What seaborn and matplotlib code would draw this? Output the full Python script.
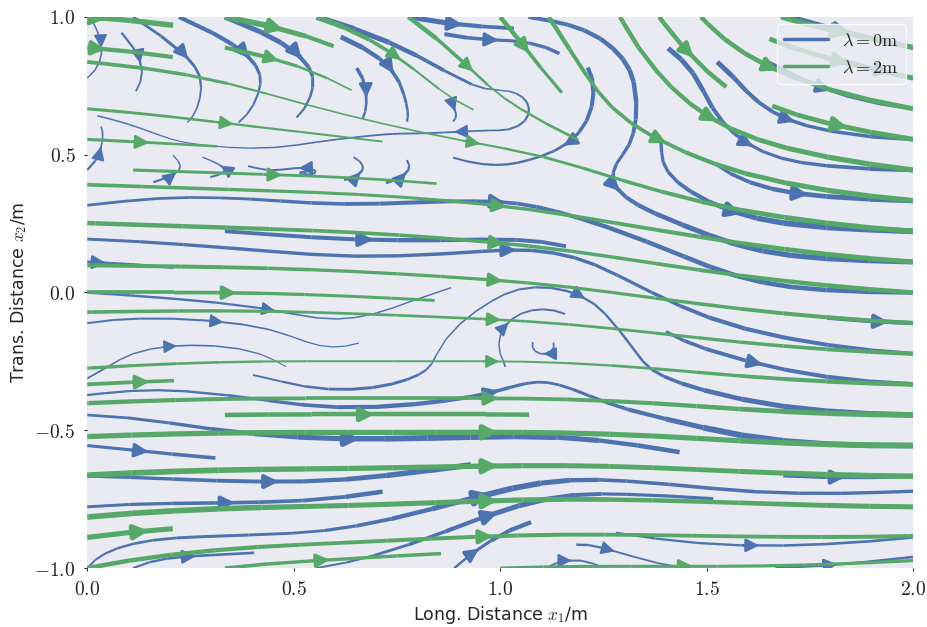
import numpy as np
import matplotlib
matplotlib.use("Agg")
import matplotlib.pyplot as plt
from matplotlib.lines import Line2D
from matplotlib.ticker import FuncFormatter, MultipleLocator
import seaborn as sns

# grid nodes (x: longitudinal, y: transverse), rows listed from top (y=1) to bottom (y=-1)
x_nodes = [0.0, 0.25, 0.5, 0.75, 1.0, 1.25, 1.5, 1.75, 2.0]
y_nodes_top_down = [1.0, 0.75, 0.5, 0.25, 0.0, -0.25, -0.5, -0.75, -1.0]

# lambda = 0 m : flow direction components and relative speed
blue_dx = [
    [0.3, 0.8, 1.0, 1.0, 1.0, 1.0, 1.0, 1.0, 1.0],
    [-0.5, 0.0, -0.2, 0.2, 1.0, 0.0, 0.3, 1.0, 1.0],
    [0.3, -0.3, -0.5, -0.3, -1.0, -0.5, 0.5, 1.0, 1.0],
    [1.0, 1.0, 1.0, 1.0, 1.0, 1.0, 1.0, 1.0, 1.0],
    [1.0, 1.0, 1.0, 1.0, 0.8, 0.7, 1.0, 1.0, 1.0],
    [0.3, 0.5, 0.2, 0.3, -0.3, -0.2, 1.0, 1.0, 1.0],
    [1.0, 1.0, 1.0, 1.0, 1.0, 1.0, 1.0, 1.0, 1.0],
    [1.0, 1.0, 1.0, 1.0, 1.0, 1.0, 1.0, 1.0, 1.0],
    [0.5, 1.0, 1.0, 1.0, 0.3, 0.5, 1.0, 1.0, 1.0],
]
blue_dy = [
    [-1.0, -0.5, -0.5, -0.3, 0.0, -0.5, -0.5, -0.4, -0.3],
    [-0.5, -1.0, -1.0, -1.0, 0.0, -1.0, -1.0, -0.6, -0.3],
    [1.0, 0.2, 0.0, 0.5, 0.0, -0.6, -0.8, -0.2, 0.0],
    [-0.05, -0.1, -0.1, -0.05, -0.05, -0.5, -0.6, -0.1, -0.05],
    [-0.1, -0.15, -0.2, 0.4, 0.6, -0.7, -0.6, -0.1, 0.0],
    [0.5, 0.05, -0.3, 0.5, 0.8, -0.8, -0.45, -0.3, -0.1],
    [-0.2, -0.25, -0.1, 0.0, 0.0, -0.2, -0.35, -0.1, 0.0],
    [0.05, 0.0, 0.05, 0.3, 0.45, 0.0, -0.1, 0.0, 0.1],
    [1.0, 0.1, 0.1, 0.6, 1.0, -0.5, -0.1, 0.1, 0.2],
]
blue_speed = [
    [0.3, 0.8, 1.0, 0.9, 0.7, 0.8, 1.0, 0.8, 0.8],
    [0.3, 0.4, 0.5, 0.6, 0.3, 0.8, 0.8, 0.7, 0.6],
    [0.4, 0.2, 0.3, 0.3, 0.4, 0.6, 0.6, 0.6, 0.8],
    [0.6, 0.7, 0.8, 0.9, 0.8, 0.8, 0.9, 1.0, 1.0],
    [0.5, 0.5, 0.4, 0.3, 0.4, 0.5, 0.8, 0.8, 0.8],
    [0.3, 0.3, 0.2, 0.3, 0.3, 0.4, 0.7, 0.7, 0.7],
    [0.6, 0.7, 0.9, 1.0, 1.0, 0.8, 1.0, 1.0, 1.0],
    [0.6, 0.7, 0.7, 0.9, 1.0, 0.6, 0.6, 0.6, 0.6],
    [0.4, 0.5, 0.4, 0.5, 0.5, 0.3, 0.4, 0.5, 0.5],
]

# lambda = 2 m
green_dx = [
    [1.0, 1.0, 1.0, 0.8, 0.5, 0.3, 0.5, 1.0, 1.0],
    [1.0, 1.0, 0.8, 0.5, 0.5, 0.4, 0.6, 1.0, 1.0],
    [1.0, 1.0, 1.0, 1.0, 1.0, 0.8, 0.8, 1.0, 1.0],
    [1.0, 1.0, 1.0, 1.0, 1.0, 1.0, 1.0, 1.0, 1.0],
    [1.0, 1.0, 1.0, 1.0, 1.0, 1.0, 1.0, 1.0, 1.0],
    [1.0, 1.0, 1.0, 1.0, 1.0, 1.0, 1.0, 1.0, 1.0],
    [1.0, 1.0, 1.0, 1.0, 1.0, 1.0, 1.0, 1.0, 1.0],
    [1.0, 1.0, 1.0, 1.0, 1.0, 1.0, 1.0, 1.0, 1.0],
    [1.0, 1.0, 1.0, 1.0, 1.0, 1.0, 1.0, 1.0, 1.0],
]
green_dy = [
    [-0.1, -0.2, -0.4, -0.8, -0.9, -1.0, -0.8, -0.3, -0.3],
    [-0.15, -0.3, -0.5, -0.6, -0.7, -0.9, -0.8, -0.5, -0.3],
    [-0.05, -0.05, -0.05, -0.1, -0.2, -0.5, -0.5, -0.3, -0.2],
    [-0.05, -0.05, -0.05, -0.1, -0.15, -0.25, -0.25, -0.2, -0.1],
    [0.0, 0.0, -0.05, -0.08, -0.1, -0.2, -0.2, -0.15, -0.1],
    [0.1, 0.05, 0.0, 0.0, 0.0, -0.1, -0.15, -0.1, -0.05],
    [0.05, 0.03, 0.0, 0.0, 0.0, -0.05, -0.1, -0.05, 0.0],
    [0.1, 0.05, 0.02, 0.05, 0.05, -0.02, -0.05, -0.05, -0.02],
    [0.3, 0.2, 0.1, 0.1, 0.05, 0.0, 0.0, 0.05, 0.1],
]
green_speed = [
    [0.9, 1.0, 0.9, 0.8, 0.8, 0.8, 0.8, 0.9, 0.9],
    [0.6, 0.5, 0.3, 0.25, 0.4, 0.7, 0.8, 0.8, 0.9],
    [0.6, 0.5, 0.5, 0.4, 0.5, 0.6, 0.8, 0.9, 0.9],
    [0.8, 0.8, 0.7, 0.7, 0.7, 0.7, 0.8, 0.9, 0.9],
    [0.7, 0.7, 0.6, 0.6, 0.6, 0.6, 0.7, 0.8, 0.8],
    [0.6, 0.5, 0.4, 0.4, 0.4, 0.5, 0.6, 0.7, 0.8],
    [0.9, 0.9, 0.9, 0.9, 0.9, 0.9, 0.9, 1.0, 1.0],
    [1.0, 1.0, 0.9, 0.9, 0.9, 0.8, 0.8, 0.9, 0.9],
    [0.8, 0.7, 0.6, 0.6, 0.6, 0.6, 0.6, 0.6, 0.6],
]

series_labels = [r"$\lambda = 0\mathrm{m}$", r"$\lambda = 2\mathrm{m}$"]

sns.set_theme(style="dark", palette="deep")
plt.rcParams["font.family"] = ["DejaVu Sans"]
plt.rcParams["mathtext.fontset"] = "cm"
plt.rcParams.update({
    "xtick.bottom": True, "ytick.left": True,
    "xtick.major.size": 2.5, "ytick.major.size": 2.5,
    "xtick.major.width": 0.8, "ytick.major.width": 0.8,
    "xtick.color": "#222222", "ytick.color": "#222222",
})

blue, green = sns.color_palette("deep")[0], sns.color_palette("deep")[2]

fig = plt.figure(figsize=(9.28, 6.27), dpi=100)
ax = fig.add_axes([0.094, 0.094, 0.890, 0.879])
ax.set_facecolor("#EAEAF2")


def field(dx, dy, sp):
    dx = np.flipud(np.array(dx, dtype=float))
    dy = np.flipud(np.array(dy, dtype=float))
    sp = np.flipud(np.array(sp, dtype=float))
    n = np.hypot(dx, dy)
    return dx / n * sp, dy / n * sp, sp


X, Y = np.meshgrid(np.array(x_nodes), np.array(y_nodes_top_down[::-1]))

for (dx, dy, sp), col in [((blue_dx, blue_dy, blue_speed), blue),
                          ((green_dx, green_dy, green_speed), green)]:
    U, V, S = field(dx, dy, sp)
    ax.streamplot(X, Y, U, V, color=col, linewidth=0.35 + 4.0 * S ** 1.5,
                  density=0.65, arrowsize=2.0)

ax.set_xlim(0, 2)
ax.set_ylim(-1, 1)
ax.xaxis.set_major_locator(MultipleLocator(0.5))
ax.yaxis.set_major_locator(MultipleLocator(0.5))
fmt = FuncFormatter(lambda v, p: r"$%s$" % ("%.1f" % v))
ax.xaxis.set_major_formatter(fmt)
ax.yaxis.set_major_formatter(fmt)
ax.tick_params(labelsize=14, pad=6)
for s in ax.spines.values():
    s.set_visible(False)

ax.set_xlabel(r"Long. Distance $x_1$/m", fontsize=12.5)
ax.set_ylabel(r"Trans. Distance $x_2$/m", fontsize=12.5)

handles = [Line2D([0], [0], color=blue, lw=2.5), Line2D([0], [0], color=green, lw=2.5)]
leg = ax.legend(handles, series_labels, loc="upper right", fontsize=13,
                frameon=True, facecolor="#EAEAF2", edgecolor="white",
                handlelength=2.4, borderaxespad=0.4)

fig.savefig("out.png", dpi=100)
